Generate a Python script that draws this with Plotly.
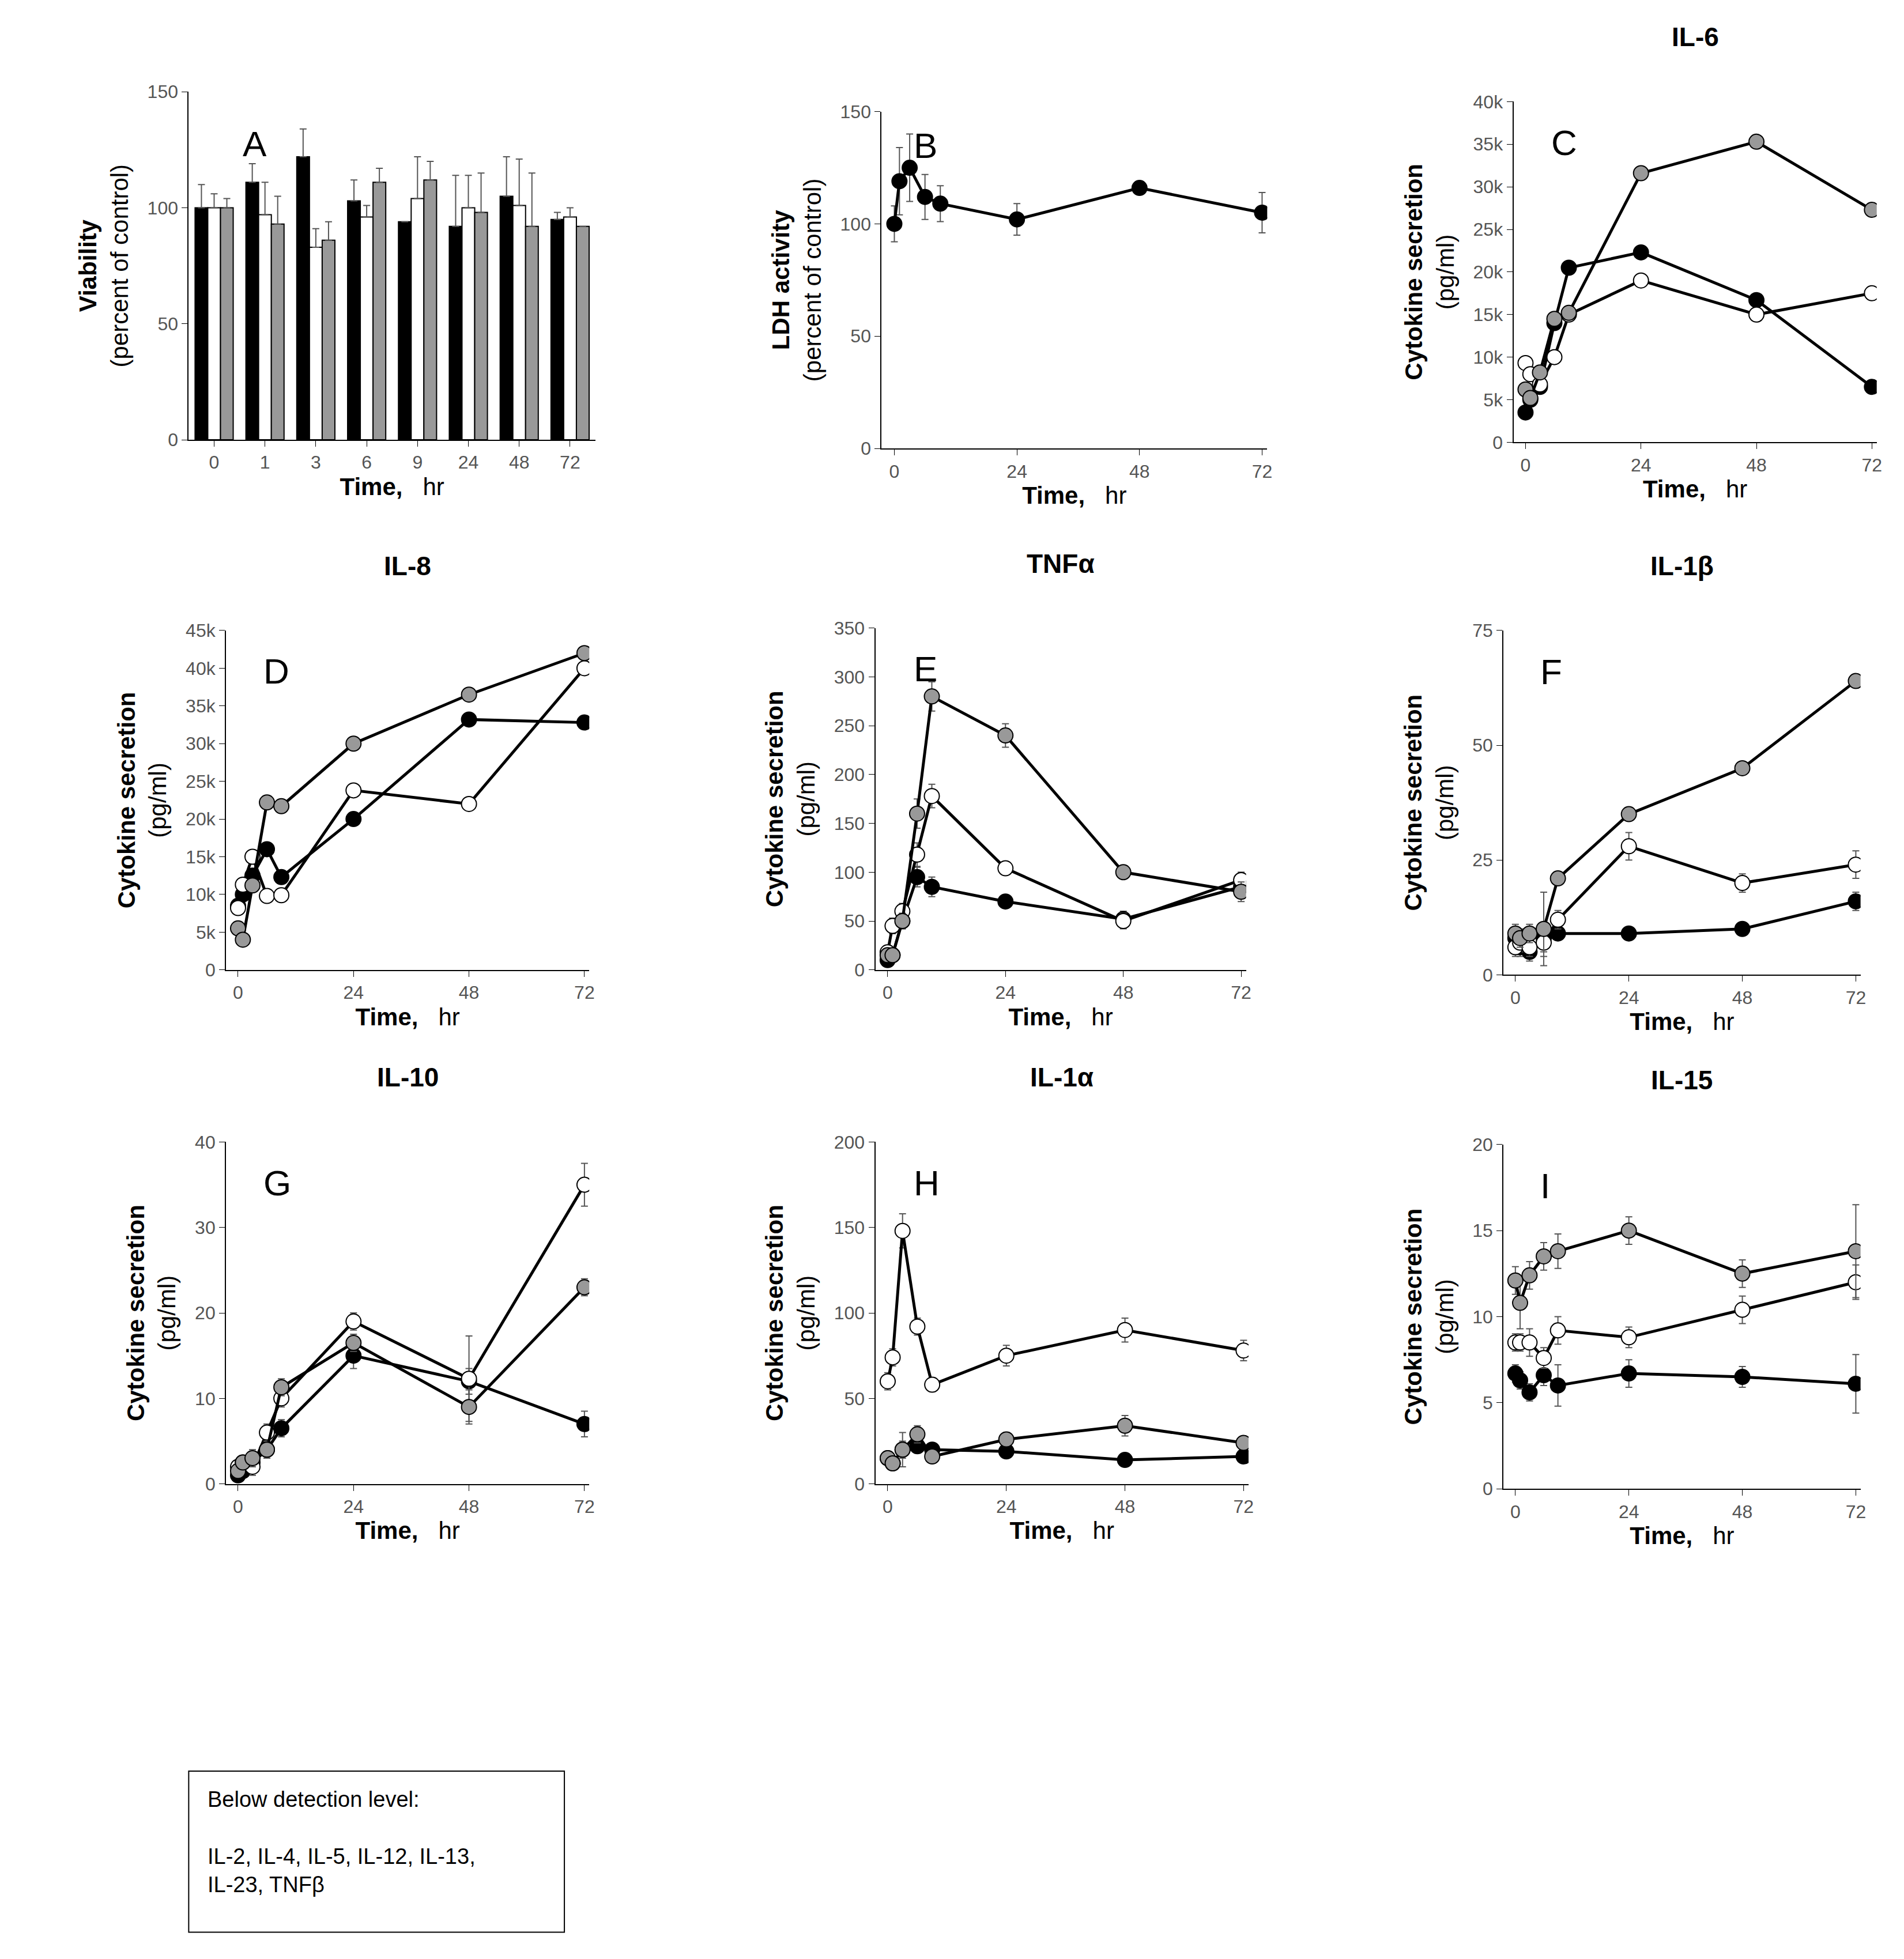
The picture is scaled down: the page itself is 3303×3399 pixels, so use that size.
import plotly.graph_objects as go

W, H = 3303, 3399
DW, DH = 1526.0, 1565.0  # reference sketch coords

times = [0, 1, 3, 6, 9, 24, 48, 72]
cats = ["0", "1", "3", "6", "9", "24", "48", "72"]

# Panel A - viability (percent of control)
via_black = [100, 111, 122, 103, 94, 92, 105, 95]
via_white = [100, 97, 83, 96, 104, 100, 101, 96]
via_gray = [100, 93, 86, 111, 112, 98, 92, 92]
via_black_err = [10, 8, 12, 9, 0, 22, 17, 3]
via_white_err = [6, 14, 8, 5, 18, 14, 20, 4]
via_gray_err = [4, 12, 8, 6, 8, 17, 23, 0]

# Panel B - LDH
ldh = [100, 119, 125, 112, 109, 102, 116, 105]
ldh_err = [8, 15, 15, 10, 8, 7, 3, 9]

# Cytokines: (black, white, gray)
il6 = ([3500, 5000, 6500, 14000, 20500, 22300, 16700, 6500],
       [9300, 8000, 6800, 10000, 15000, 19000, 15000, 17500],
       [6200, 5200, 8200, 14500, 15200, 31600, 35300, 27300])
il8 = ([8500, 10000, 12500, 16000, 12300, 20000, 33200, 32800],
       [8200, 11300, 15000, 9800, 9900, 23800, 22000, 40000],
       [5500, 4000, 11200, 22200, 21700, 30000, 36500, 42000])
tnf = ([10, 15, 50, 95, 85, 70, 52, 85],
       [18, 45, 60, 118, 178, 104, 50, 92],
       [15, 15, 50, 160, 280, 240, 100, 80])
tnf_err = ([5, 5, 8, 10, 10, 6, 8, 8], [5, 8, 8, 12, 12, 6, 8, 8], [5, 5, 8, 15, 15, 12, 6, 10])
il1b = ([8, 6, 5, 8, 9, 9, 10, 16],
        [6, 7, 6, 7, 12, 28, 20, 24],
        [9, 8, 9, 10, 21, 35, 45, 64])
il1b_err = ([2, 2, 2, 3, 1, 1, 1, 2], [2, 2, 2, 3, 2, 3, 2, 3], [2, 2, 2, 8, 1, 1, 1, 1])
il10 = ([1, 1.5, 2.5, 4, 6.5, 15, 12, 7],
        [2, 2.5, 2, 6, 10, 19, 12.3, 35],
        [1.5, 2.5, 3, 4, 11.3, 16.5, 9, 23])
il10_err = ([0.5, 0.5, 1, 1, 1, 1.5, 1.5, 1.5], [0.5, 0.5, 1, 1, 1, 1, 5, 2.5], [0.5, 0.5, 1, 1, 1, 1, 2, 1])
il1a = ([15, 12, 20, 22, 20, 19, 14, 16],
        [60, 74, 148, 92, 58, 75, 90, 78],
        [15, 12, 20, 29, 16, 26, 34, 24])
il1a_err = ([3, 3, 5, 4, 3, 3, 3, 3], [5, 5, 10, 5, 4, 6, 7, 6], [3, 3, 10, 5, 3, 4, 6, 3])
il15 = ([6.7, 6.3, 5.6, 6.6, 6.0, 6.7, 6.5, 6.1],
        [8.5, 8.5, 8.5, 7.6, 9.2, 8.8, 10.4, 12.0],
        [12.1, 10.8, 12.4, 13.5, 13.8, 15.0, 12.5, 13.8])
il15_err = ([0.5, 0.5, 0.5, 0.6, 1.2, 0.8, 0.6, 1.7], [0.5, 0.5, 0.8, 0.6, 0.8, 0.6, 0.8, 1.0], [0.8, 1.5, 0.8, 0.8, 1.0, 0.8, 0.8, 2.7])

FILLS = ["black", "white", "#999999"]
TICKF = dict(family="Arial", size=32, color="#555555")
TF = dict(family="Arial", size=42, color="black")

fig = go.Figure()
layout = {}


def dom(x0, x1, y0, y1):
    return [x0 / DW, x1 / DW], [1 - y1 / DH, 1 - y0 / DH]


def axis_style(n, xd, yd, yrange, dtick, ytitle, xcat=False):
    xa = dict(domain=xd, anchor="y%s" % n, showline=True, linecolor="black", linewidth=2,
              ticks="outside", ticklen=10, tickcolor="black", tickfont=TICKF, showgrid=False,
              zeroline=False, title=dict(text="<b>Time,</b>   hr", font=TF, standoff=10))
    if not xcat:
        xa.update(range=[-2.5, 73], tickvals=[0, 24, 48, 72])
    ya = dict(domain=yd, anchor="x%s" % n, showline=True, linecolor="black", linewidth=2,
              ticks="outside", ticklen=10, tickcolor="black", tickfont=TICKF, showgrid=False,
              zeroline=False, range=yrange, dtick=dtick,
              title=dict(text=ytitle, font=TF, standoff=20))
    layout["xaxis%s" % ("" if n == "" else n)] = xa
    layout["yaxis%s" % ("" if n == "" else n)] = ya


cyt_title = "<b>Cytokine secretion</b><br>(pg/ml)"
annots = []


def letter(n, text, xd, yd, dx=0.12, dy=0.9):
    annots.append(dict(text=text, xref="x%s domain" % n, yref="y%s domain" % n, x=dx, y=dy,
                       showarrow=False, font=dict(family="Arial", size=62, color="black"),
                       xanchor="left", yanchor="middle"))


def title(n, text, yd):
    annots.append(dict(text="<b>%s</b>" % text, xref="x%s domain" % n, yref="paper",
                       x=0.5, y=yd[1] + 0.025, showarrow=False,
                       font=dict(family="Arial", size=46, color="black"), yanchor="bottom"))


# Panel A
xd, yd = dom(148, 475, 62, 343)
axis_style("", xd, yd, [0, 150], 50,
           "<b>Viability</b><br>(percent of control)", xcat=True)
for vals, err, c in [(via_black, via_black_err, FILLS[0]), (via_white, via_white_err, FILLS[1]),
                     (via_gray, via_gray_err, FILLS[2])]:
    fig.add_trace(go.Bar(x=cats, y=vals, marker=dict(color=c, line=dict(color="black", width=2)),
                         error_y=dict(type="data", array=err, arrayminus=[0] * 8, color="#555555",
                                      thickness=2, width=6),
                         xaxis="x", yaxis="y", showlegend=False))
letter("", "A", xd, yd, 0.13, 0.85)

# Panel B
xd, yd = dom(705, 1015, 78, 350)
axis_style("2", xd, yd, [0, 150], 50, "<b>LDH activity</b><br>(percent of control)")
fig.add_trace(go.Scatter(x=times, y=ldh, mode="lines+markers", xaxis="x2", yaxis="y2",
                         line=dict(color="black", width=5),
                         marker=dict(size=26, color="black", line=dict(color="black", width=2)),
                         error_y=dict(array=ldh_err, color="#555555", thickness=2, width=6),
                         showlegend=False))
letter("2", "B", xd, yd, 0.08, 0.9)

panels = [
    ("3", (1213, 1505, 70, 345), il6, None, [0, 40000], 5000, "C", "IL-6"),
    ("4", (178, 470, 497, 771), il8, None, [0, 45000], 5000, "D", "IL-8"),
    ("5", (700, 998, 495, 771), tnf, tnf_err, [0, 350], 50, "E", "TNFα"),
    ("6", (1205, 1492, 497, 775), il1b, il1b_err, [0, 75], 25, "F", "IL-1β"),
    ("7", (178, 470, 910, 1186), il10, il10_err, [0, 40], 10, "G", "IL-10"),
    ("8", (700, 1000, 910, 1186), il1a, il1a_err, [0, 200], 50, "H", "IL-1α"),
    ("9", (1205, 1492, 912, 1190), il15, il15_err, [0, 20], 5, "I", "IL-15"),
]
for n, box, data, errs, yr, dt, let, ttl in panels:
    xd, yd = dom(*box)
    axis_style(n, xd, yd, yr, dt, cyt_title)
    for i in range(3):
        ey = dict(array=errs[i], color="#555555", thickness=2, width=6) if errs else None
        fig.add_trace(go.Scatter(x=times, y=data[i], mode="lines+markers", xaxis="x" + n,
                                 yaxis="y" + n, line=dict(color="black", width=5),
                                 marker=dict(size=26, color=FILLS[i],
                                             line=dict(color="black", width=2)),
                                 error_y=ey, showlegend=False))
    letter(n, let, xd, yd, 0.1, 0.88)
    title(n, ttl, yd)

# Note box
annots.append(dict(text="Below detection level:<br><br>IL-2, IL-4, IL-5, IL-12, IL-13,<br>IL-23, TNFβ",
                   xref="paper", yref="paper", x=162 / DW, y=1 - 1430 / DH, xanchor="left",
                   yanchor="top", align="left", showarrow=False,
                   font=dict(family="Arial", size=38, color="black")))
shapes = [dict(type="rect", xref="paper", yref="paper", x0=148 / DW, x1=450 / DW,
               y0=1 - 1548 / DH, y1=1 - 1418 / DH, line=dict(color="black", width=2))]

fig.update_layout(width=W, height=H, plot_bgcolor="white", paper_bgcolor="white",
                  margin=dict(l=0, r=0, t=0, b=0), barmode="group", bargap=0.25, bargroupgap=0,
                  annotations=annots, shapes=shapes, font=dict(family="Arial"), **layout)
fig.write_html("out.html")
